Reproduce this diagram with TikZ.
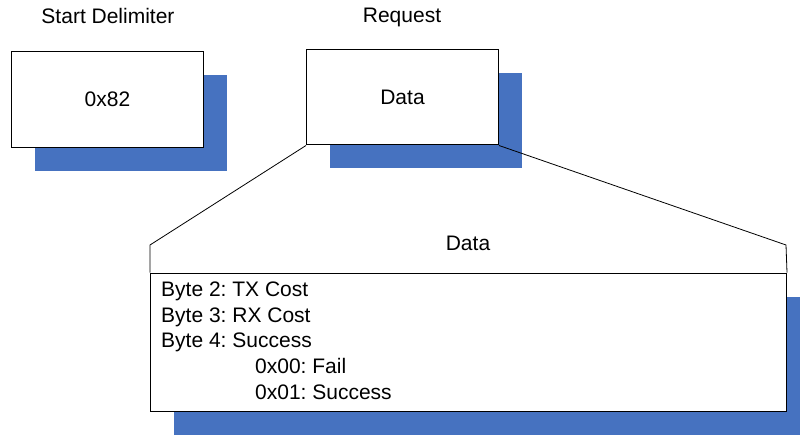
\documentclass[tikz,border=0pt]{standalone}
\usepackage{fontspec}
\setmainfont{Liberation Sans}
\usetikzlibrary{shadows}
\frenchspacing

\begin{document}
\begin{tikzpicture}[x=1pt,y=-1pt,
  every node/.style={font=\fontsize{21}{24}\selectfont},
  framebox/.style={rectangle,draw=black,line width=1pt,fill=white,inner sep=0,anchor=north west,
    general shadow={fill=shadowblue,shadow xshift=23.5pt,shadow yshift=-23.5pt}},
  zoomline/.style={draw=black,line width=0.8pt}]
\definecolor{shadowblue}{HTML}{4672C0}
\useasboundingbox (0,0) rectangle (800,435);
% top frame boxes
\node [framebox,minimum width=192,minimum height=95.5] (delim) at (11,51.5) {0x82};
\node [framebox,minimum width=192,minimum height=95.5] (request) at (306,49) {Data};
\node [anchor=base] (delimlbl) at (108,23.3) {Start Delimiter};
\node [anchor=base] (requestlbl) at (402,23) {Request};
% expanded data field
\node [framebox,minimum width=636,minimum height=138.5] (detail) at (150,272.7) {};
\coordinate (hdl) at (150,245);
\coordinate (hdr) at (786,245);
\node [anchor=base] (detailhdr) at (468,250.5) {Data};
\draw [zoomline] (request.south west) -- (hdl) -- (detail.north west);
\draw [zoomline] (request.south east) -- (hdr) -- (detail.north east);
\foreach \txt/\xx/\yy [count=\i] in {Byte 2: TX Cost/161/297,Byte 3: RX Cost/161/322.5,
    Byte 4: Success/161/348,0x00: Fail/255/373.5,0x01: Success/255/399}
  {  \node [anchor=base west,inner sep=0] (line\i) at (\xx,\yy) {\txt};}
\end{tikzpicture}
\end{document}
